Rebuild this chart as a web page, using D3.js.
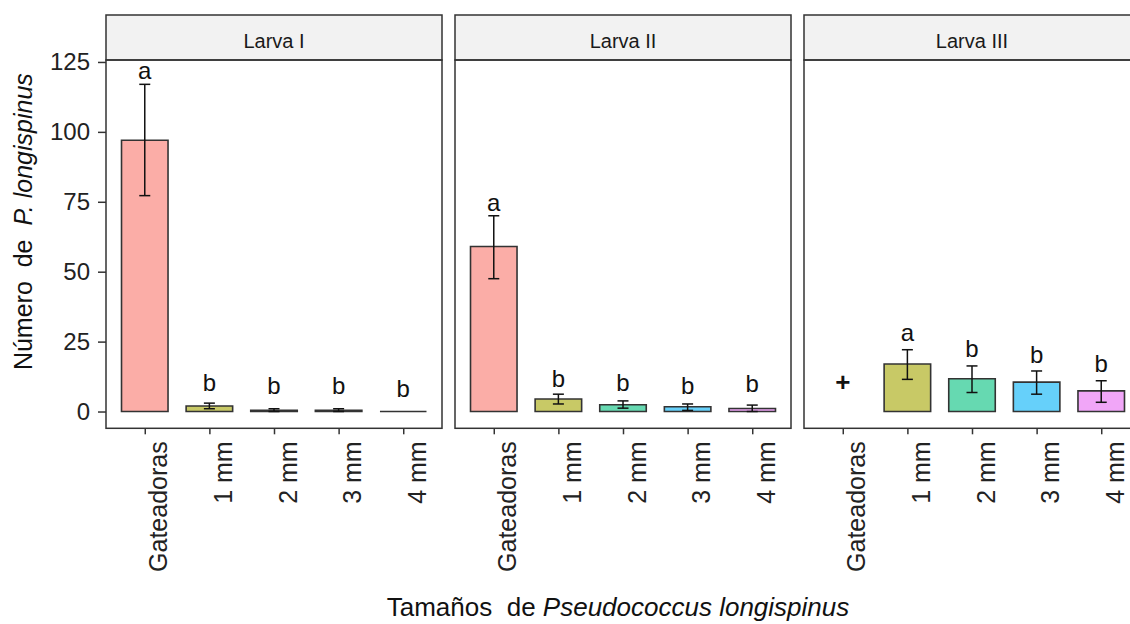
<!DOCTYPE html>
<html>
<head>
<meta charset="utf-8">
<script src="https://cdn.jsdelivr.net/npm/d3@7"></script>
<style>
  body { margin: 0; background: #fff; }
  svg text { font-family: "Liberation Sans", Arial, sans-serif; }
</style>
</head>
<body>
<div id="chart"></div>
<script>
// ---- Data -------------------------------------------------------------
const stages = ['Larva I', 'Larva II', 'Larva III'];
const sizes = ['Gateadoras', '1 mm', '2 mm', '3 mm', '4 mm'];
const yTicks = [0, 25, 50, 75, 100, 125];

// mean number per stage (rows) x predator size (cols); null = no bar
const means = [
  [97, 2, 0.4, 0.4, 0],
  [59, 4.5, 2.4, 1.7, 1.1],
  [null, 17, 11.7, 10.5, 7.4]
];
const lower = [
  [77.2, 1, 0, 0, 0],
  [47.5, 2.7, 1.2, 0.4, 0],
  [null, 11.5, 6.8, 6.2, 3.3]
];
const upper = [
  [117, 3, 1.0, 1.0, 0],
  [70, 6.2, 3.8, 2.7, 2.3],
  [null, 22.1, 16.3, 14.5, 11]
];
// significance letters and the height they sit at
const letters = [
  ['a', 'b', 'b', 'b', 'b'],
  ['a', 'b', 'b', 'b', 'b'],
  ['+', 'a', 'b', 'b', 'b']
];
const letterY = [
  [118.9, 7.5, 6.4, 6.4, 5.1],
  [71.8, 8.9, 7.5, 6.3, 6.9],
  [10.5, 25.1, 19.6, 17.2, 14.0]
];

// ---- Dimensions -------------------------------------------------------
const width = 1130, height = 624;
const panelLeft = 106, panelW = 336, panelGap = 13;
const stripTop = 15, plotTop = 60, plotBottom = 428.3;

const colors = d3.scaleOrdinal()
  .domain(sizes)
  .range(['#F8766D', '#A3A500', '#00BF7D', '#00B0F6', '#E76BF3']);

const svg = d3.select('#chart').append('svg')
  .attr('width', width)
  .attr('height', height);

const yScale = d3.scaleLinear()
  .domain([-6.0, 125.7])
  .range([plotBottom, plotTop]);

stages.forEach((stage, si) => {
  const x0 = panelLeft + si * (panelW + panelGap);
  const xScale = d3.scalePoint()
    .domain(sizes)
    .range([x0, x0 + panelW])
    .padding(0.6);
  const barW = xScale.step() * 0.72;
  const capW = 11;

  const g = svg.append('g');

  // strip
  g.append('rect')
    .attr('x', x0).attr('y', stripTop)
    .attr('width', panelW).attr('height', plotTop - stripTop)
    .attr('fill', '#F2F2F2')
    .attr('stroke', '#333').attr('stroke-width', 1.5);
  g.append('text')
    .attr('x', x0 + panelW / 2).attr('y', 48)
    .attr('text-anchor', 'middle')
    .attr('font-size', 20)
    .attr('fill', '#1a1a1a')
    .text(stage);

  const rows = sizes.map((s, i) => ({
    size: s, mean: means[si][i], lo: lower[si][i], hi: upper[si][i],
    letter: letters[si][i], ly: letterY[si][i]
  }));

  // bars (as closed paths so zero-height bars still show a line)
  g.selectAll('path.bar')
    .data(rows.filter(d => d.mean !== null))
    .join('path')
    .attr('class', 'bar')
    .attr('d', d => {
      const xl = xScale(d.size) - barW / 2, xr = xl + barW;
      const yt = yScale(d.mean), yb = yScale(0);
      return `M${xl},${yb}L${xl},${yt}L${xr},${yt}L${xr},${yb}Z`;
    })
    .attr('fill', d => colors(d.size))
    .attr('fill-opacity', 0.6)
    .attr('stroke', '#333')
    .attr('stroke-width', 1.6);

  // error bars
  const eb = g.selectAll('g.err')
    .data(rows.filter(d => d.mean !== null && d.hi > d.lo))
    .join('g')
    .attr('class', 'err')
    .attr('stroke', '#111')
    .attr('stroke-width', 1.5);
  eb.append('line')
    .attr('x1', d => xScale(d.size)).attr('x2', d => xScale(d.size))
    .attr('y1', d => yScale(d.lo)).attr('y2', d => yScale(d.hi));
  eb.append('line')
    .attr('x1', d => xScale(d.size) - capW / 2).attr('x2', d => xScale(d.size) + capW / 2)
    .attr('y1', d => yScale(d.hi)).attr('y2', d => yScale(d.hi));
  eb.append('line')
    .attr('x1', d => xScale(d.size) - capW / 2).attr('x2', d => xScale(d.size) + capW / 2)
    .attr('y1', d => yScale(d.lo)).attr('y2', d => yScale(d.lo));

  // letters
  g.selectAll('text.lab')
    .data(rows)
    .join('text')
    .attr('class', 'lab')
    .attr('x', d => xScale(d.size))
    .attr('y', d => yScale(d.ly))
    .attr('text-anchor', 'middle')
    .attr('dominant-baseline', d => d.letter === '+' ? 'central' : 'auto')
    .attr('font-size', d => d.letter === '+' ? 26 : 24)
    .attr('font-weight', d => d.letter === '+' ? 'bold' : 'normal')
    .attr('fill', '#111')
    .text(d => d.letter);

  // panel border
  g.append('rect')
    .attr('x', x0).attr('y', plotTop)
    .attr('width', panelW).attr('height', plotBottom - plotTop)
    .attr('fill', 'none')
    .attr('stroke', '#333').attr('stroke-width', 1.5);

  // x axis
  const xAxisG = g.append('g')
    .attr('transform', `translate(0,${plotBottom})`)
    .call(d3.axisBottom(xScale).tickSize(6).tickPadding(0));
  xAxisG.select('.domain').remove();
  xAxisG.selectAll('.tick line').attr('stroke', '#333').attr('stroke-width', 1.5);
  xAxisG.selectAll('.tick text')
    .attr('font-size', 25)
    .attr('fill', '#222')
    .attr('transform', 'rotate(-90)')
    .attr('text-anchor', 'end')
    .attr('dominant-baseline', 'auto')
    .attr('x', -13)
    .attr('y', 22)
    .attr('dy', null);

  // y axis on first panel only
  if (si === 0) {
    const yAxisG = g.append('g')
      .attr('transform', `translate(${x0},0)`)
      .call(d3.axisLeft(yScale).tickValues(yTicks).tickSize(8).tickPadding(8));
    yAxisG.select('.domain').remove();
    yAxisG.selectAll('.tick line').attr('stroke', '#333').attr('stroke-width', 1.5);
    yAxisG.selectAll('.tick text')
      .attr('font-size', 24)
      .attr('fill', '#222');
  }
});

// ---- Axis titles ------------------------------------------------------
const xTitle = svg.append('text')
  .attr('x', 618).attr('y', 616)
  .attr('text-anchor', 'middle')
  .attr('font-size', 26)
  .attr('fill', '#111')
  .attr('xml:space', 'preserve');
xTitle.append('tspan').text('Tamaños  de ');
xTitle.append('tspan').attr('font-style', 'italic').text('Pseudococcus longispinus');

const yTitle = svg.append('text')
  .attr('transform', `translate(32,${(stripTop + plotBottom) / 2}) rotate(-90)`)
  .attr('text-anchor', 'middle')
  .attr('font-size', 25)
  .attr('fill', '#111')
  .attr('xml:space', 'preserve');
yTitle.append('tspan').text('Número  de  ');
yTitle.append('tspan').attr('font-style', 'italic').text('P. longispinus');
</script>
</body>
</html>
